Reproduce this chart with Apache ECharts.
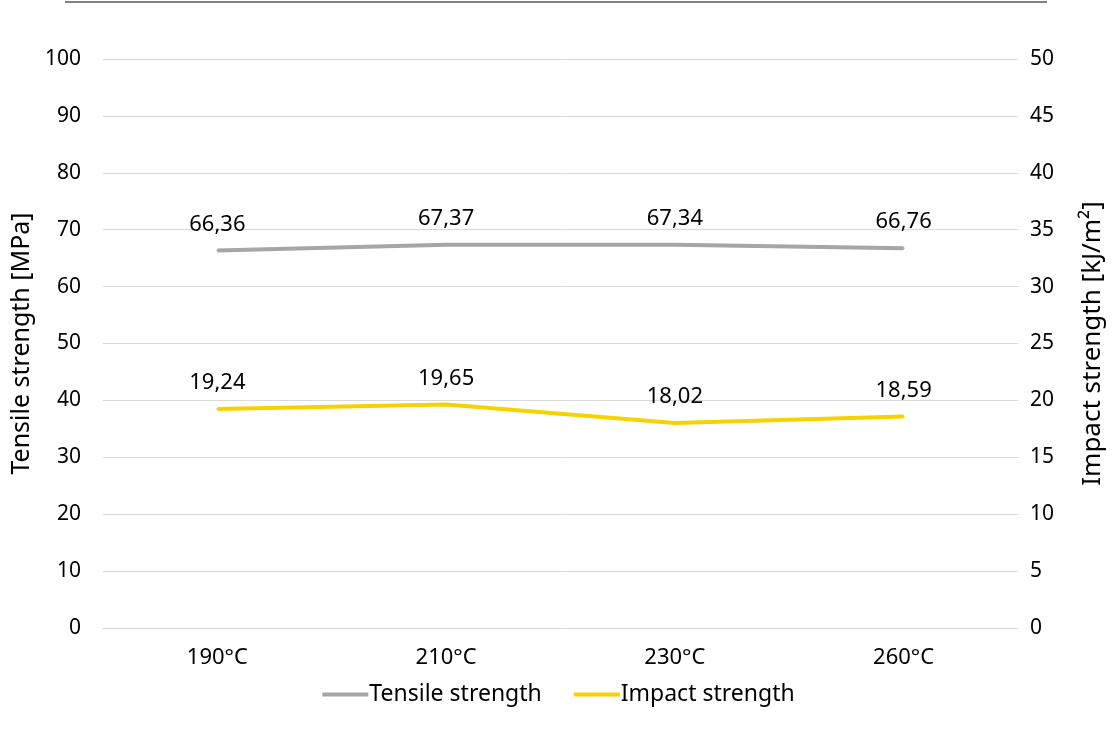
<!DOCTYPE html>
<html><head><meta charset="utf-8">
<script src="https://cdn.jsdelivr.net/npm/echarts@6/dist/echarts.min.js"></script>
<style>html,body{margin:0;padding:0;background:#fff;}#c{width:1117px;height:731px;}</style>
</head><body><div id="c"></div>
<script>
const categories = ['190°C', '210°C', '230°C', '260°C'];
const tensile = [66.36, 67.37, 67.34, 66.76];
const impact = [19.24, 19.65, 18.02, 18.59];
const leftAxisName = 'Tensile strength [MPa]';
const rightAxisName = 'Impact strength [kJ/m²]';

const FONT = 'Noto Sans';
const fmt = p => p.value.toFixed(2).replace('.', ',');
const chart = echarts.init(document.getElementById('c'));
chart.setOption({
  animation: false,
  textStyle: {fontFamily: FONT},
  graphic: [{type: 'line', shape: {x1: 65, y1: 2, x2: 1047, y2: 2}, style: {stroke: '#595959', lineWidth: 1.5}}],
  grid: {left: 103, right: 99, top: 59, bottom: 103, containLabel: false},
  legend: {
    bottom: 20, left: 'center', itemWidth: 46, itemHeight: 4, itemGap: 32,
    icon: 'rect',
    textStyle: {fontSize: 23, color: '#000', fontFamily: FONT, padding: [0,0,0,-4]},
    data: ['Tensile strength', 'Impact strength']
  },
  xAxis: {
    type: 'category', data: categories,
    axisLine: {show: true, lineStyle: {color: '#d9d9d9'}}, axisTick: {show: false},
    axisLabel: {fontSize: 22, color: '#000', margin: 19, fontFamily: FONT}
  },
  yAxis: [{
    type: 'value', min: 0, max: 100, interval: 10,
    name: leftAxisName, nameLocation: 'middle', nameGap: 68, nameRotate: 90,
    nameTextStyle: {fontSize: 25, color: '#000', fontFamily: FONT},
    axisLabel: {fontSize: 21, color: '#000', margin: 22, fontFamily: FONT},
    splitLine: {lineStyle: {color: '#d9d9d9', width: 1}},
    axisLine: {show: false}, axisTick: {show: false}
  }, {
    type: 'value', min: 0, max: 50, interval: 5, position: 'right',
    name: rightAxisName, nameLocation: 'middle', nameGap: 62, nameRotate: 90,
    nameTextStyle: {fontSize: 26, color: '#000', fontFamily: FONT},
    axisLabel: {fontSize: 21, color: '#000', margin: 12, fontFamily: FONT},
    splitLine: {show: false}, axisLine: {show: false}, axisTick: {show: false}
  }],
  series: [{
    name: 'Tensile strength', type: 'line', data: tensile, yAxisIndex: 0,
    symbol: 'circle', symbolSize: 2, showSymbol: true,
    lineStyle: {color: '#A6A6A6', width: 4}, itemStyle: {color: '#A6A6A6'},
    label: {show: true, position: 'top', distance: 14, formatter: fmt, fontSize: 22, color: '#000', fontFamily: FONT}
  }, {
    name: 'Impact strength', type: 'line', data: impact, yAxisIndex: 1,
    symbol: 'circle', symbolSize: 2, showSymbol: true,
    lineStyle: {color: '#F5D200', width: 4}, itemStyle: {color: '#F5D200'},
    label: {show: true, position: 'top', distance: 14, formatter: fmt, fontSize: 22, color: '#000', fontFamily: FONT}
  }]
});
</script></body></html>
